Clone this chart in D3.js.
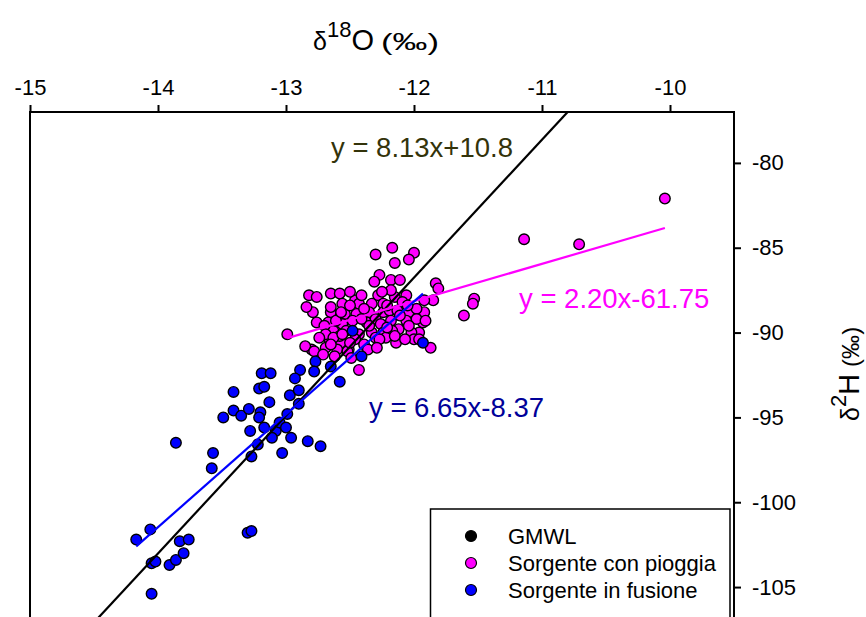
<!DOCTYPE html>
<html>
<head>
<meta charset="utf-8">
<script src="https://cdn.jsdelivr.net/npm/d3@7"></script>
<style>
  html, body { margin: 0; padding: 0; background: #fff; }
  svg { display: block; font-family: "Liberation Sans", Arial, sans-serif; }
</style>
</head>
<body>
<svg id="chart" width="866" height="617"></svg>
<script>
// δ18O / δ2H samples, spring fed by rain ("Sorgente con pioggia")
const pioggia = [
  [-10.04, -82.1], [-10.71, -84.8], [-11.14, -84.5], [-11.53, -88.0], [-11.54, -88.3],
  [-11.61, -89.0], [-11.83, -87.1], [-11.81, -87.4], [-11.85, -88.1], [-11.92, -88.1],
  [-11.92, -88.8], [-11.93, -89.4], [-11.96, -90.0], [-12.02, -90.0], [-12.00, -90.4],
  [-11.87, -90.9], [-12.14, -90.6], [-12.30, -85.4], [-12.17, -85.0], [-12.00, -85.3],
  [-12.04, -85.7], [-12.15, -85.9], [-12.27, -86.6], [-12.31, -87.0], [-12.18, -86.9],
  [-12.11, -86.9], [-12.82, -87.8], [-12.76, -87.9], [-12.65, -87.7], [-12.58, -87.7],
  [-12.56, -88.3], [-12.46, -88.1], [-12.43, -88.3], [-12.28, -87.8], [-12.33, -88.3],
  [-12.24, -88.3], [-12.15, -87.9], [-12.06, -87.8], [-12.09, -88.2], [-12.79, -88.8],
  [-12.65, -88.8], [-12.54, -88.9], [-12.45, -88.9], [-12.35, -88.8], [-12.24, -88.8],
  [-12.19, -88.7], [-12.13, -88.7], [-12.04, -88.8], [-11.98, -88.6], [-12.76, -89.4],
  [-12.67, -89.4], [-12.56, -89.5], [-12.48, -89.3], [-12.37, -89.4], [-12.30, -89.2],
  [-12.26, -89.5], [-12.18, -89.3], [-12.12, -89.8], [-12.06, -89.3], [-11.98, -89.2],
  [-12.63, -89.9], [-12.43, -90.1], [-12.33, -90.0], [-12.24, -90.0], [-12.17, -89.9],
  [-12.66, -90.4], [-12.57, -90.6], [-12.46, -90.4], [-12.30, -90.3], [-12.22, -90.3],
  [-12.80, -91.0], [-12.69, -90.9], [-12.60, -91.0], [-12.51, -91.0], [-12.43, -92.2],
  [-12.99, -90.1], [-12.84, -88.5], [-12.70, -89.6], [-12.85, -90.8], [-12.78, -91.1],
  [-12.71, -91.3], [-12.69, -90.1], [-12.58, -90.2], [-12.52, -91.1], [-12.50, -90.6],
  [-11.91, -89.3], [-12.50, -88.4], [-12.39, -88.6], [-12.21, -88.4], [-12.11, -89.0],
  [-12.04, -89.6], [-12.27, -90.4], [-12.39, -90.7], [-12.15, -90.2], [-12.07, -90.4],
  [-12.35, -89.6], [-12.21, -89.7], [-12.41, -89.2], [-12.53, -89.9], [-12.61, -89.3],
  [-12.74, -90.3], [-12.62, -91.4], [-12.49, -91.5], [-12.36, -91.0], [-12.29, -90.9],
  [-11.96, -90.4], [-12.05, -88.4], [-12.18, -87.5], [-12.25, -87.6], [-12.41, -87.8],
  [-12.50, -87.6], [-12.65, -88.5], [-12.57, -88.8], [-12.63, -90.3], [-12.56, -90.1],
  [-12.65, -90.7]
];

// δ18O / δ2H samples, spring fed by snowmelt ("Sorgente in fusione")
const fusione = [
  [-14.17, -102.2], [-14.06, -101.6], [-14.05, -103.6], [-14.02, -103.5], [-14.05, -105.4],
  [-13.91, -103.7], [-13.86, -103.4], [-13.80, -103.0], [-13.83, -102.3], [-13.76, -102.2],
  [-13.30, -101.8], [-13.27, -101.7], [-13.86, -96.5], [-13.57, -97.1], [-13.58, -98.0],
  [-13.41, -93.5], [-13.19, -92.4], [-13.12, -92.4], [-13.21, -93.3], [-13.17, -93.2],
  [-13.13, -94.1], [-13.41, -94.6], [-13.49, -95.0], [-13.35, -94.9], [-13.29, -94.5],
  [-13.20, -94.7], [-13.21, -95.0], [-13.28, -95.8], [-13.17, -95.6], [-13.08, -95.8],
  [-13.05, -95.3], [-13.00, -95.6], [-13.11, -96.2], [-13.22, -96.6], [-13.27, -97.3],
  [-13.03, -97.1], [-12.99, -94.8], [-12.96, -96.2], [-12.97, -93.7], [-12.90, -93.4],
  [-12.90, -94.2], [-12.89, -92.2], [-12.93, -92.7], [-12.77, -91.7], [-12.78, -92.3],
  [-12.65, -92.0], [-12.58, -92.9], [-12.48, -89.9], [-12.41, -91.4], [-11.93, -90.6],
  [-12.83, -96.4], [-12.73, -96.7]
];

// Fitted lines: [slope, intercept]
const gmwl = [8.13, 10.8];
const fitPioggia = [2.20, -61.75];
const fitFusione = [6.65, -8.37];

const eqLabels = ["y = 8.13x+10.8", "y = 2.20x-61.75", "y = 6.65x-8.37"];
const legendNames = ["GMWL", "Sorgente con pioggia", "Sorgente in fusione"];

const xTicks = [-15, -14, -13, -12, -11, -10];
const yTicks = [-80, -85, -90, -95, -100, -105];

const svg = d3.select("#chart");

const x = d3.scaleLinear().domain([-15, -9.5]).range([30, 734]);
const y = d3.scaleLinear().domain([-107, -77]).range([621, 112]);

const colMag = "#ff00ff", colBlue = "#0000ff";
const FONT = "'Liberation Sans', Arial, sans-serif";

svg.append("defs").append("clipPath").attr("id", "plotClip")
  .append("rect")
  .attr("x", x(-15)).attr("y", y(-77))
  .attr("width", x(-9.5) - x(-15)).attr("height", y(-107) - y(-77));

const plot = svg.append("g").attr("clip-path", "url(#plotClip)");

// sample points
plot.append("g").selectAll("circle").data(pioggia).join("circle")
  .attr("cx", d => x(d[0])).attr("cy", d => y(d[1])).attr("r", 5.3)
  .attr("fill", colMag).attr("stroke", "#000").attr("stroke-width", 1.4);

plot.append("g").selectAll("circle").data(fusione).join("circle")
  .attr("cx", d => x(d[0])).attr("cy", d => y(d[1])).attr("r", 5.3)
  .attr("fill", colBlue).attr("stroke", "#000").attr("stroke-width", 1.4);

// regression lines
function fitLine(coef, x0, x1, color) {
  plot.append("line")
    .attr("x1", x(x0)).attr("y1", y(coef[0] * x0 + coef[1]))
    .attr("x2", x(x1)).attr("y2", y(coef[0] * x1 + coef[1]))
    .attr("stroke", color).attr("stroke-width", 2.2);
}
fitLine(gmwl, -15, -9.5, "#000");
const exP = d3.extent(pioggia, d => d[0]);
fitLine(fitPioggia, exP[0], exP[1], colMag);
const exF = d3.extent(fusione, d => d[0]);
fitLine(fitFusione, exF[0], exF[1], colBlue);

// equation labels
const eqStyle = [
  { x: 331, y: 157, c: "#33330a" },
  { x: 519, y: 308, c: colMag },
  { x: 369, y: 417, c: "#000099" }
];
svg.append("g").selectAll("text").data(eqLabels).join("text")
  .attr("x", (d, i) => eqStyle[i].x).attr("y", (d, i) => eqStyle[i].y)
  .attr("fill", (d, i) => eqStyle[i].c)
  .attr("font-size", 27.5)
  .text(d => d);

// frame
svg.append("path")
  .attr("d", `M${x(-15)},${y(-107)}V${y(-77)}H${x(-9.5)}V${y(-107)}`)
  .attr("stroke", "#000").attr("stroke-width", 2).attr("fill", "none");

// top axis
const xAxis = d3.axisTop(x).tickValues(xTicks).tickSize(7).tickPadding(10).tickFormat(d => String(d));
const gx = svg.append("g").attr("transform", `translate(0,${y(-77)})`).call(xAxis);
gx.select(".domain").remove();
gx.selectAll("line").attr("stroke-width", 2);
gx.selectAll("text").attr("font-size", 22).attr("fill", "#000").attr("font-family", FONT);

// right axis
const yAxis = d3.axisRight(y).tickValues(yTicks).tickSize(7).tickPadding(11).tickFormat(d => String(d));
const gy = svg.append("g").attr("transform", `translate(${x(-9.5)},0)`).call(yAxis);
gy.select(".domain").remove();
gy.selectAll("line").attr("stroke-width", 2);
gy.selectAll("text").attr("font-size", 22).attr("fill", "#000").attr("font-family", FONT);

// axis titles: δ, superscript mass number, element, per-mil unit
function isoTitle(sel, mass, elem, unitLen) {
  sel.append("tspan").attr("font-size", 25).text("δ");
  sel.append("tspan").attr("font-size", 22).attr("dy", -13).text(mass);
  sel.append("tspan").attr("font-size", 29).attr("dy", 13).text(elem);
  sel.append("tspan").attr("font-size", 24).attr("dx", 7)
    .attr("textLength", unitLen).attr("lengthAdjust", "spacingAndGlyphs").text("(‰)");
}
isoTitle(svg.append("text").attr("x", 313).attr("y", 50).attr("fill", "#000"), "18", "O", 58);
isoTitle(svg.append("text").attr("transform", "translate(859,421) rotate(-90)").attr("fill", "#000"), "2", "H", 40);

// legend
const leg = svg.append("g");
leg.append("rect").attr("x", 430.5).attr("y", 509).attr("width", 299.5).attr("height", 140)
  .attr("fill", "#fff").attr("stroke", "#000").attr("stroke-width", 1.5);
const legColors = ["#000", colMag, colBlue];
legendNames.forEach((name, i) => {
  const cy = 536 + i * 27;
  leg.append("circle").attr("cx", 471).attr("cy", cy).attr("r", 5.5)
    .attr("fill", legColors[i]).attr("stroke", "#000").attr("stroke-width", 1.2);
  leg.append("text").attr("x", 508).attr("y", cy + 8).attr("font-size", 22).attr("fill", "#000").text(name);
});
</script>
</body>
</html>
